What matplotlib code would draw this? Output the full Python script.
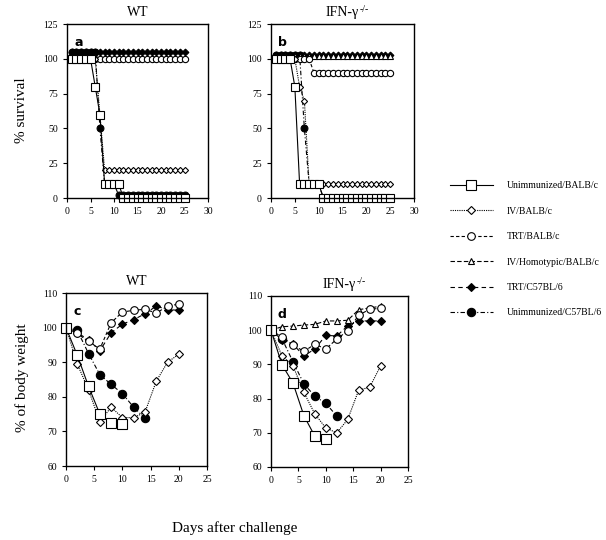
import numpy as np
import matplotlib
import matplotlib.pyplot as plt

matplotlib.rc('font', family='Liberation Serif', size=8)

# series names (legend order)
series = ['Unimmunized/BALB/c', 'IV/BALB/c', 'TRT/BALB/c',
          'IV/Homotypic/BALB/c', 'TRT/C57BL/6', 'Unimmunized/C57BL/6']

# survival, days 1..25
surv_days = np.arange(1, 26)
surv_a = {
    'Unimmunized/BALB/c': [100]*5 + [80, 60] + [10]*4 + [0]*14,
    'IV/BALB/c': [100]*6 + [60] + [20]*18,
    'TRT/BALB/c': [100]*25,
    'TRT/C57BL/6': [105]*25,
    'Unimmunized/C57BL/6': [105]*6 + [50] + [10]*3 + [2]*15,
}
surv_b = {
    'Unimmunized/BALB/c': [100]*4 + [80] + [10]*5 + [0]*15,
    'IV/BALB/c': [100]*5 + [80, 70] + [10]*18,
    'TRT/BALB/c': [100]*8 + [90]*17,
    'IV/Homotypic/BALB/c': [102]*25,
    'TRT/C57BL/6': [103]*25,
    'Unimmunized/C57BL/6': [103]*6 + [50] + [10]*3 + [0]*15,
}

# body weight, measured every 2 days from day 0
bw_c = {
    'Unimmunized/BALB/c': [100, 92, 83, 75, 72.5, 72],
    'IV/BALB/c': [100, 89.5, 82, 72.8, 77, 74, 74, 75.5, 84.5, 90, 92.3],
    'TRT/BALB/c': [100, 98.3, 96, 93.8, 101.4, 104.5, 105, 105.3, 104.2, 106.2, 106.8],
    'TRT/C57BL/6': [100, 98.5, 96.5, 93.3, 98.5, 101, 102.3, 104, 106.2, 105.2, 105],
    'Unimmunized/C57BL/6': [100, 99.2, 92.5, 86.4, 83.6, 80.9, 77, 73.8],
}
bw_d = {
    'Unimmunized/BALB/c': [100, 89.9, 84.6, 75, 69, 68.3],
    'IV/BALB/c': [100, 92.5, 89.6, 81.8, 75.5, 71.4, 70, 73.9, 82.5, 83.3, 89.6],
    'TRT/BALB/c': [100, 98, 95.7, 93.8, 95.9, 94.5, 97.4, 99.8, 104.4, 106.1, 106.4],
    'IV/Homotypic/BALB/c': [100, 101, 101.2, 101.5, 101.7, 102.7, 102.7, 102.9, 106, 106.5, 107],
    'TRT/C57BL/6': [100, 97.2, 95.9, 92.5, 94.5, 98.5, 98.3, 101.3, 102.7, 102.7, 102.7],
    'Unimmunized/C57BL/6': [100, 97.5, 90.8, 84.3, 80.7, 78.6, 74.9],
}

styles = {
    'Unimmunized/BALB/c': dict(ls='-', marker='s', mfc='white', ms=6.5),
    'IV/BALB/c': dict(ls=(0, (1, 1)), marker='D', mfc='white', ms=3.8),
    'TRT/BALB/c': dict(ls=(0, (3, 2)), marker='o', mfc='white', ms=5.5),
    'IV/Homotypic/BALB/c': dict(ls=(0, (4, 2)), marker='^', mfc='white', ms=5),
    'TRT/C57BL/6': dict(ls=(0, (4, 3)), marker='D', mfc='black', ms=4.2),
    'Unimmunized/C57BL/6': dict(ls=(0, (4, 2, 1, 2)), marker='o', mfc='black', ms=6),
}
# draw order: filled first, open square last
draw_order = ['Unimmunized/C57BL/6', 'TRT/C57BL/6', 'IV/Homotypic/BALB/c',
              'TRT/BALB/c', 'IV/BALB/c', 'Unimmunized/BALB/c']

fig = plt.figure(figsize=(6.06, 5.4), dpi=100)
ax_a = fig.add_axes([0.1106, 0.6333, 0.2327, 0.3222])
ax_b = fig.add_axes([0.4472, 0.6333, 0.2360, 0.3222])
ax_c = fig.add_axes([0.1089, 0.1370, 0.2327, 0.3204])
ax_d = fig.add_axes([0.4472, 0.1352, 0.2261, 0.3167])


def draw(ax, data, x_of, scale=1.0):
    handles = {}
    for name in draw_order:
        if name not in data:
            continue
        y = data[name]
        st = styles[name]
        h, = ax.plot(x_of(len(y)), y, color='black', lw=0.8, ls=st['ls'],
                     marker=st['marker'], ms=st['ms'] * scale, mfc=st['mfc'],
                     mec='black', mew=0.8, clip_on=False)
        handles[name] = h
    return handles


for ax, data, letter in [(ax_a, surv_a, 'a'), (ax_b, surv_b, 'b')]:
    draw(ax, data, lambda n: surv_days[:n], scale=0.82)
    ax.set_xlim(0, 30)
    ax.set_ylim(0, 125)
    ax.set_xticks(range(0, 31, 5))
    ax.set_yticks(range(0, 126, 25))
    ax.text(0.05, 0.93, letter, transform=ax.transAxes, fontsize=9,
            fontweight='bold', family='DejaVu Sans', va='top')

legend_handles = None
for ax, data, letter in [(ax_c, bw_c, 'c'), (ax_d, bw_d, 'd')]:
    hs = draw(ax, data, lambda n: np.arange(n) * 2)
    if letter == 'd':
        legend_handles = hs
    ax.set_xlim(0, 25)
    ax.set_ylim(60, 110)
    ax.set_xticks(range(0, 26, 5))
    ax.set_yticks(range(60, 111, 10))
    ax.text(0.05, 0.93, letter, transform=ax.transAxes, fontsize=9,
            fontweight='bold', family='DejaVu Sans', va='top')

for ax in [ax_a, ax_b, ax_c, ax_d]:
    ax.tick_params(direction='out', length=3, width=0.8, labelsize=7,
                   top=False, right=False)
    for sp in ax.spines.values():
        sp.set_linewidth(1.0)

ax_a.set_title('WT', fontsize=10, pad=6)
ax_c.set_title('WT', fontsize=10, pad=6)
ifn_titles = [ax_b.set_title('IFN-\u03b3', fontsize=10, pad=6),
              ax_d.set_title('IFN-\u03b3', fontsize=10, pad=6)]

fig.text(0.036, 0.796, '% survival', rotation=90, ha='center', va='center', fontsize=11)
fig.text(0.036, 0.30, '% of body weight', rotation=90, ha='center', va='center', fontsize=11)
fig.text(0.388, 0.022, 'Days after challenge', ha='center', va='center', fontsize=11)

fig.legend([legend_handles[n] for n in series], series, loc='upper left',
           bbox_to_anchor=(0.736, 0.6715), frameon=False, fontsize=7,
           handlelength=4.4, handletextpad=1.45, labelspacing=1.69,
           borderaxespad=0)

# superscript -/- placed right after the "IFN-γ" titles
fig.canvas.draw()
r = fig.canvas.get_renderer()
for t in ifn_titles:
    bb = t.get_window_extent(r)
    fig.text((bb.x1 + 0.5) / fig.bbox.width, (bb.y1 + 0.5) / fig.bbox.height,
             '-/-', fontsize=7, ha='left', va='top')

fig.savefig('out.png', dpi=100)
